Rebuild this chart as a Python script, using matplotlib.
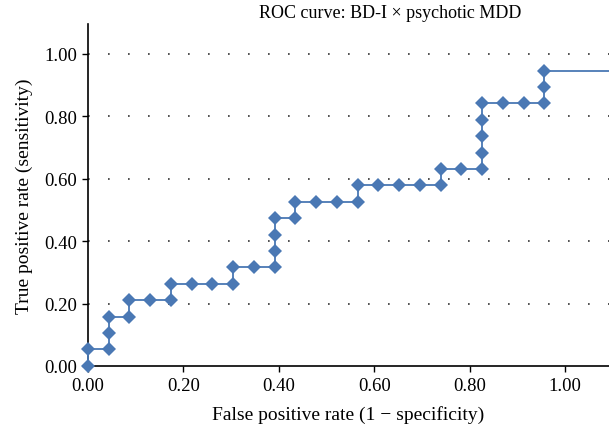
import matplotlib
matplotlib.use('Agg')
import matplotlib.pyplot as plt

# ROC points (false positive rate, sensitivity)
fpr = [0.000, 0.000, 0.043, 0.043, 0.043, 0.087, 0.087, 0.130, 0.174, 0.174,
       0.217, 0.261, 0.304, 0.304, 0.348, 0.391, 0.391, 0.391, 0.391, 0.435,
       0.435, 0.478, 0.522, 0.565, 0.565, 0.609, 0.652, 0.696, 0.739, 0.739,
       0.783, 0.826, 0.826, 0.826, 0.826, 0.826, 0.870, 0.913, 0.957, 0.957,
       0.957]
tpr = [0.000, 0.053, 0.053, 0.105, 0.158, 0.158, 0.211, 0.211, 0.211, 0.263,
       0.263, 0.263, 0.263, 0.316, 0.316, 0.316, 0.368, 0.421, 0.474, 0.474,
       0.526, 0.526, 0.526, 0.526, 0.579, 0.579, 0.579, 0.579, 0.579, 0.632,
       0.632, 0.632, 0.684, 0.737, 0.789, 0.842, 0.842, 0.842, 0.842, 0.895,
       0.947]
# the curve runs on flat to the edge after the last point
tail_fpr = [0.957, 1.2]
tail_tpr = [0.947, 0.947]

ticks = [0.0, 0.2, 0.4, 0.6, 0.8, 1.0]
tick_labels = ["0.00", "0.20", "0.40", "0.60", "0.80", "1.00"]

plt.rcParams['font.family'] = ['Liberation Serif', 'DejaVu Serif']
blue = "#4a78b4"

fig = plt.figure(figsize=(6.09, 4.35), dpi=100)
ax = fig.add_axes([88/609, 1 - 367/435, 1 - 88/609, (367 - 25)/435])

ax.plot(tail_fpr, tail_tpr, color=blue, linewidth=1.3, zorder=3)
ax.plot(fpr, tpr, color=blue, linewidth=1.3, marker='D', markersize=7.5,
        markeredgewidth=0, zorder=4, clip_on=False)

ax.set_xlim(0, (609 - 88) / 477)
ax.set_ylim(0, (367 - 25) / 312)

ax.set_xticks(ticks)
ax.set_xticklabels(tick_labels)
ax.set_yticks(ticks)
ax.set_yticklabels(tick_labels)
ax.tick_params(axis='both', direction='out', length=4, width=1, labelsize=13.5, pad=4)

for y in ticks[1:]:
    ax.axhline(y, color='#333333', linewidth=1.2, linestyle=(0, (1, 11)), zorder=1)

ax.spines['top'].set_visible(False)
ax.spines['right'].set_visible(False)
ax.spines['left'].set_linewidth(1.2)
ax.spines['bottom'].set_linewidth(1.2)

ax.set_xlabel("False positive rate (1 − specificity)", fontsize=14, labelpad=8)
ax.set_ylabel("True positive rate (sensitivity)", fontsize=14, labelpad=8)
fig.text(390/609, 1 - 14/435, "ROC curve: BD-I × psychotic MDD", fontsize=13,
         ha='center', va='center')

fig.savefig("out.png", dpi=100)
plt.close(fig)
